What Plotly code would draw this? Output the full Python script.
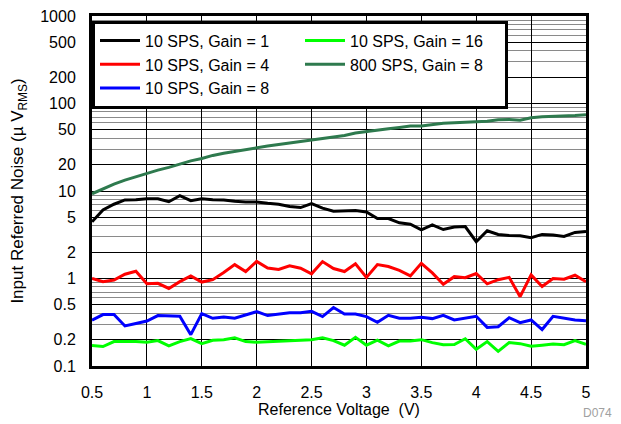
import plotly.graph_objects as go

vref = [round(0.5 + 0.1 * i, 1) for i in range(46)]

g1_10sps = [4.44, 6.08, 7.06, 7.9, 7.95, 8.17, 8.17, 7.54, 8.84, 7.75,
            8.17, 7.95, 7.9, 7.62, 7.5, 7.5, 7.25, 7.06, 6.64, 6.47,
            7.18, 6.36, 5.87, 5.97, 5.97, 5.77, 4.85, 4.85, 4.33, 4.18,
            3.6, 4.1, 3.63, 3.87, 3.92, 2.63, 3.51, 3.19, 3.1, 3.08,
            2.92, 3.19, 3.14, 3.02, 3.36, 3.45]

g4_10sps = [1.0, 0.92, 0.96, 1.12, 1.21, 0.87, 0.88, 0.77, 0.92, 1.07,
            0.91, 0.97, 1.17, 1.44, 1.2, 1.57, 1.32, 1.27, 1.4, 1.31,
            1.13, 1.56, 1.3, 1.2, 1.47, 1.03, 1.44, 1.37, 1.24, 1.07,
            1.49, 1.16, 0.86, 1.05, 1.02, 1.14, 0.87, 0.97, 1.03, 0.62,
            1.1, 0.81, 1.0, 0.98, 1.09, 0.92]

g8_10sps = [0.334, 0.387, 0.387, 0.287, 0.306, 0.327, 0.377, 0.37, 0.37, 0.228,
            0.397, 0.351, 0.364, 0.351, 0.382, 0.418, 0.377, 0.393, 0.406, 0.406,
            0.422, 0.367, 0.466, 0.393, 0.393, 0.367, 0.316, 0.38, 0.351, 0.351,
            0.361, 0.348, 0.38, 0.336, 0.355, 0.37, 0.276, 0.281, 0.357, 0.313,
            0.336, 0.261, 0.37, 0.355, 0.336, 0.33]

g16_10sps = [0.172, 0.167, 0.19, 0.191, 0.191, 0.187, 0.195, 0.17, 0.19, 0.206,
             0.18, 0.197, 0.2, 0.21, 0.19, 0.187, 0.19, 0.193, 0.197, 0.197,
             0.2, 0.21, 0.195, 0.173, 0.213, 0.173, 0.197, 0.17, 0.193, 0.193,
             0.2, 0.185, 0.175, 0.176, 0.205, 0.155, 0.19, 0.147, 0.185, 0.18,
             0.168, 0.173, 0.178, 0.175, 0.195, 0.177]

g8_800sps = [9.3, 10.6, 12.0, 13.3, 14.5, 16.0, 17.3, 18.6, 20.4, 22.1,
             23.5, 25.5, 27.0, 28.4, 29.8, 31.0, 32.6, 34.0, 35.3, 37.2,
             38.6, 40.0, 41.5, 43.2, 45.9, 48.0, 49.9, 51.6, 53.3, 55.2,
             55.2, 57.0, 59.5, 60.1, 60.8, 61.2, 62.7, 65.1, 65.6, 64.5,
             68.8, 70.7, 71.2, 71.8, 73.1, 74.6]

series = [
    ("10 SPS, Gain = 1", g1_10sps, "#000000", 1),
    ("10 SPS, Gain = 16", g16_10sps, "#00ff00", 2),
    ("10 SPS, Gain = 4", g4_10sps, "#ff0000", 3),
    ("800 SPS, Gain = 8", g8_800sps, "#2e7a4e", 4),
    ("10 SPS, Gain = 8", g8_10sps, "#0000ff", 5),
]

x_ticks = [0.5, 1, 1.5, 2, 2.5, 3, 3.5, 4, 4.5, 5]
x_tick_text = ["0.5", "1", "1.5", "2", "2.5", "3", "3.5", "4", "4.5", "5"]
y_ticks = [0.1, 0.2, 0.5, 1, 2, 5, 10, 20, 50, 100, 200, 500, 1000]
y_tick_text = ["0.1", "0.2", "0.5", "1", "2", "5", "10", "20", "50", "100", "200", "500", "1000"]
y_minor = [m * 10 ** e for e in range(-1, 3) for m in (3, 4, 6, 7, 8, 9)]

FONT = "Liberation Sans, Arial, sans-serif"

fig = go.Figure()
for name, vals, color, rank in series:
    fig.add_trace(go.Scatter(x=vref, y=vals, mode="lines", name=name,
                             line=dict(color=color, width=3), legendrank=rank))

fig.update_layout(
    width=613, height=416,
    margin=dict(l=84, r=35, t=8, b=58),
    paper_bgcolor="white", plot_bgcolor="white",
    font=dict(family=FONT, size=16, color="black"),
    showlegend=True,
    legend=dict(
        orientation="h", x=0, y=0.987, xanchor="left", yanchor="top",
        bgcolor="white", bordercolor="black", borderwidth=3,
        font=dict(size=16), entrywidth=150, tracegroupgap=0,
        itemwidth=40,
    ),
    xaxis=dict(
        range=[0.5, 5], tickmode="array", tickvals=x_ticks, ticktext=x_tick_text,
        showgrid=True, gridcolor="black", gridwidth=1,
        showline=True, linecolor="black", linewidth=3, mirror=True,
        ticks="", ticklabelstandoff=10, zeroline=False, automargin=False,
        ticklabeloverflow="allow",
        title=dict(text="Reference Voltage  (V)", font=dict(size=16), standoff=4),
        tickfont=dict(size=16),
    ),
    yaxis=dict(
        type="log", range=[-1, 3], tickmode="array", tickvals=y_ticks, ticktext=y_tick_text,
        showgrid=True, gridcolor="black", gridwidth=1,
        minor=dict(tickmode="array", tickvals=y_minor, showgrid=True,
                   gridcolor="#8a8a8a", gridwidth=1, ticks=""),
        showline=True, linecolor="black", linewidth=3, mirror=True,
        ticks="", ticklabelstandoff=10, zeroline=False, automargin=False,
        ticklabeloverflow="allow",
        title=dict(text="Input Referred Noise (µ V<sub>RMS</sub>)", font=dict(size=17), standoff=13),
        tickfont=dict(size=16),
    ),
    annotations=[dict(text="D074", xref="paper", yref="paper", x=1.057, y=-0.134,
                      xanchor="right", yanchor="middle", showarrow=False,
                      font=dict(size=12, color="#a0a0a0"))],
)

fig.write_html("out.html")
